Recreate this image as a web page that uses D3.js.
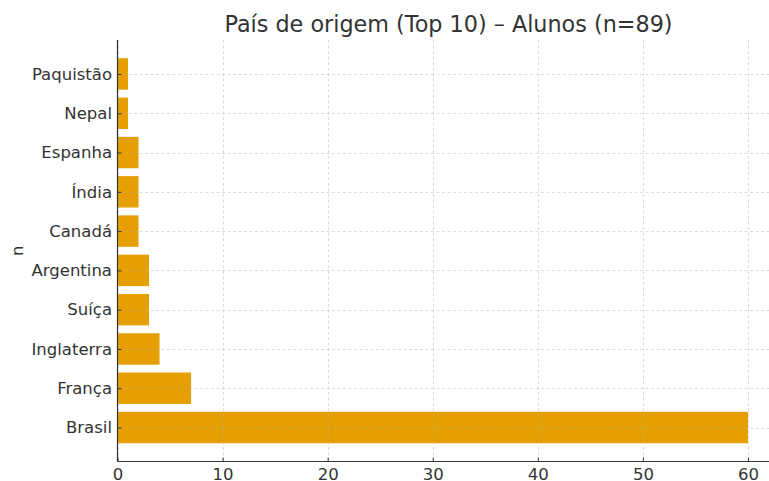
<!DOCTYPE html>
<html><head><meta charset="utf-8">
<script src="https://cdn.jsdelivr.net/npm/d3@7"></script>
<style>body{margin:0;background:#fff}svg{display:block;font-family:"DejaVu Sans",sans-serif}</style>
</head><body><svg id="c" width="769" height="481"></svg>
<script>
const categories = ["Paquistão","Nepal","Espanha","Índia","Canadá","Argentina","Suíça","Inglaterra","França","Brasil"];
const values = [1,1,2,2,2,3,3,4,7,60];
const xTicks = [0,10,20,30,40,50,60];
const title = "País de origem (Top 10) – Alunos (n=89)";
const yLabel = "n";

(function(){
const svg = d3.select("#c");
const mLeft = 117.5, mRight = 779.5, mTop = 40, mBottom = 461.5;
const x = d3.scaleLinear().domain([0,63]).range([mLeft,mRight]);
const n = categories.length;
const yLin = d3.scaleLinear().domain([n-1+0.865, -0.865]).range([mBottom, mTop]);
const color = "#E69F00", ink = "#333333", fs = "16.5px";

// bars
svg.append("g").selectAll("rect").data(categories).join("rect")
  .attr("x", x(0))
  .attr("y", (d,i)=>yLin(i-0.4))
  .attr("width", (d,i)=>x(values[i])-x(0))
  .attr("height", (d,i)=>yLin(i+0.4)-yLin(i-0.4))
  .attr("fill", color);

// grid over bars
const grid = svg.append("g").attr("stroke","#b0b0b0").attr("stroke-opacity",0.55).attr("stroke-dasharray","3,2.5").attr("stroke-width",0.8);
grid.selectAll(".gx").data(xTicks).join("line")
  .attr("x1",d=>Math.round(x(d))+0.5).attr("x2",d=>Math.round(x(d))+0.5).attr("y1",mTop).attr("y2",mBottom);
grid.selectAll(".gy").data(categories).join("line")
  .attr("x1",mLeft).attr("x2",mRight).attr("y1",(d,i)=>Math.round(yLin(i))+0.5).attr("y2",(d,i)=>Math.round(yLin(i))+0.5);

// x axis (ticks inward)
const xAxis = d3.axisBottom(x).tickValues(xTicks).tickSize(-4).tickPadding(6).tickSizeOuter(0);
const gx = svg.append("g").attr("transform",`translate(0,${mBottom})`).call(xAxis);
gx.select(".domain").attr("d",`M${mLeft},0H${mRight}`).attr("stroke",ink).attr("stroke-width",1.2);
gx.selectAll(".tick line").attr("stroke",ink);
gx.selectAll(".tick text").attr("fill",ink).attr("y",6.5).style("font-size",fs).attr("font-family","DejaVu Sans");

// y axis (ticks inward)
const yAxis = d3.axisLeft(d3.scalePoint().domain(categories).range([yLin(0),yLin(n-1)])).tickSize(-4).tickPadding(6).tickSizeOuter(0);
const gy = svg.append("g").attr("transform",`translate(${mLeft},0)`).call(yAxis);
gy.select(".domain").attr("d",`M0,${mTop}V${mBottom}`).attr("stroke",ink).attr("stroke-width",1.2);
gy.selectAll(".tick line").attr("stroke",ink);
gy.selectAll(".tick text").attr("fill",ink).attr("x",-5.5).style("font-size",fs).attr("font-family","DejaVu Sans");

// title
svg.append("text").attr("x",(mLeft+mRight)/2).attr("y",32).attr("text-anchor","middle")
  .attr("fill",ink).style("font-size","22.3px").text(title);
// y label
svg.append("text").attr("transform",`translate(23,${(mTop+mBottom)/2}) rotate(-90)`).attr("text-anchor","middle")
  .attr("fill",ink).style("font-size",fs).text(yLabel);
})();
</script></body></html>
